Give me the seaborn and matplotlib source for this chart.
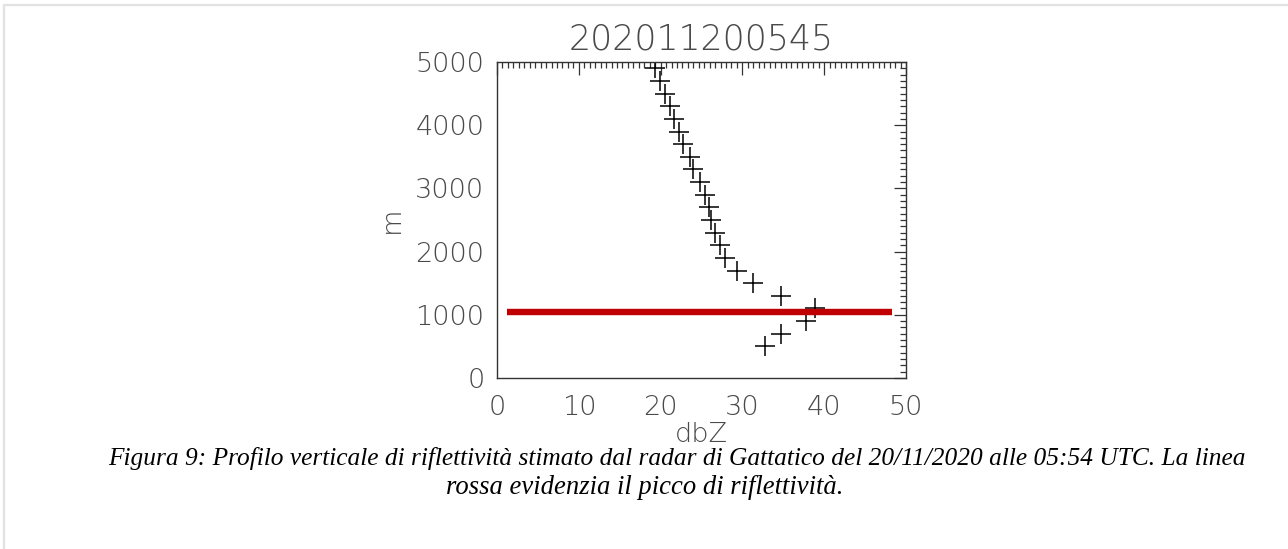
import matplotlib
matplotlib.use('Agg')
import matplotlib.pyplot as plt
import seaborn as sns
import numpy as np
import pandas as pd
from matplotlib.ticker import MultipleLocator
from matplotlib.patches import Rectangle

# dati del profilo verticale
quota_m = [500, 700, 900, 1100, 1300, 1500, 1700, 1900, 2100, 2300, 2500, 2700,
           2900, 3100, 3300, 3500, 3700, 3900, 4100, 4300, 4500, 4700, 4900]
dbz = [32.8, 34.7, 37.8, 38.9, 34.7, 31.3, 29.3, 27.9, 27.3, 26.7, 26.2, 25.9,
       25.4, 24.8, 24.0, 23.6, 22.7, 22.2, 21.6, 21.1, 20.5, 19.9, 19.3]

# linea rossa del picco
picco_x = [1.2, 48.3]
picco_y = [1050, 1050]

titolo = '202011200545'
didascalia_1 = ('Figura 9: Profilo verticale di riflettività stimato dal radar di Gattatico '
                'del 20/11/2020 alle 05:54 UTC. La linea')
didascalia_2 = 'rossa evidenzia il picco di riflettività.'

df = pd.DataFrame({'dbZ': dbz, 'm': quota_m})

sns.set_style('white')
plt.rcParams['font.family'] = ['DejaVu Sans']

fig = plt.figure(figsize=(12.88, 5.49), dpi=100)
ax = fig.add_axes([0.3859, 0.3115, 0.3175, 0.5756])

txt_col = '#4a4a4a'

sns.lineplot(x=picco_x, y=picco_y, color='#c00000', linewidth=4.6, ax=ax,
             solid_capstyle='butt')
sns.scatterplot(data=df, x='dbZ', y='m', marker='+', s=190, color='black',
                linewidth=1.1, ax=ax)

ax.set_xlim(0, 50)
ax.set_ylim(0, 5000)
ax.xaxis.set_major_locator(MultipleLocator(10))
ax.xaxis.set_minor_locator(MultipleLocator(10 / 15))
ax.yaxis.set_major_locator(MultipleLocator(1000))
ax.yaxis.set_minor_locator(MultipleLocator(100))
ax.tick_params(which='both', direction='in', top=True, right=True,
               color='#333333', width=0.9)
ax.tick_params(which='major', length=9, labelsize=19.5, labelcolor=txt_col)
ax.tick_params(axis='x', which='major', pad=12)
ax.tick_params(axis='y', which='major', pad=9)
ax.tick_params(which='minor', length=4)
for lab in ax.get_xticklabels() + ax.get_yticklabels():
    lab.set_fontweight('light')
for sp in ax.spines.values():
    sp.set_color('#333333')
    sp.set_linewidth(1.0)

ax.set_xlabel('dbZ', fontsize=19.5, color=txt_col, fontweight='light', labelpad=2)
ax.set_ylabel('m', fontsize=19.5, color=txt_col, fontweight='light', labelpad=8)
ax.set_title(titolo, fontsize=25, color=txt_col, fontweight='light', pad=9)

fig.text(677 / 1288, 1 - 459 / 549, didascalia_1, ha='center', va='center',
         fontsize=18.3, family=['Liberation Serif'], style='italic', color='black')
fig.text(645 / 1288, 1 - 487 / 549, didascalia_2, ha='center', va='center',
         fontsize=19.2, family=['Liberation Serif'], style='italic', color='black')

# cornice grigia chiara
fig.patches.append(Rectangle((4 / 1288, -0.05), 1.1, (549 - 5) / 549 + 0.05,
                             transform=fig.transFigure, fill=False,
                             edgecolor='#e2e2e2', linewidth=1.6))

fig.savefig('out.png', dpi=100)
